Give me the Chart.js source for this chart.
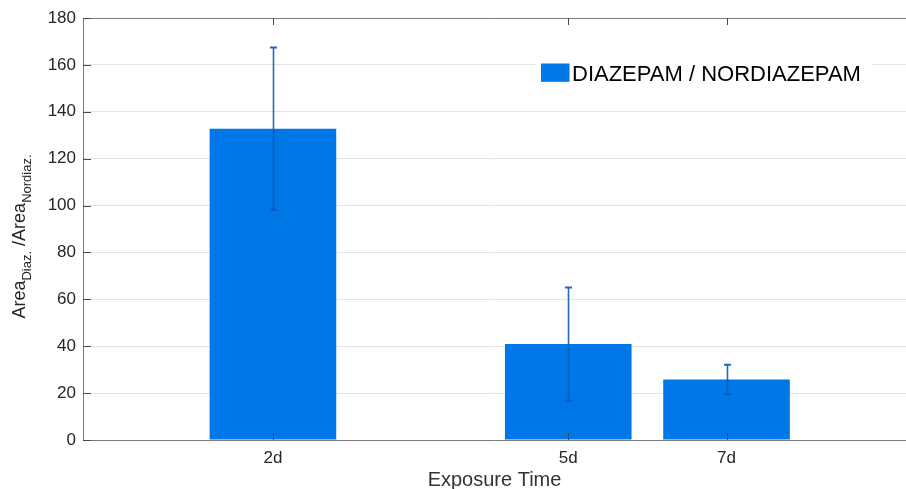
<!DOCTYPE html>
<html><head><meta charset="utf-8">
<script src="https://cdn.jsdelivr.net/npm/chart.js@4/dist/chart.umd.min.js"></script>
<style>html,body{margin:0;padding:0;background:#fff;}canvas{display:block;}</style>
</head><body>
<canvas id="c" width="906" height="489"></canvas>
<script>
// ---- data ----
const seriesLabel = 'DIAZEPAM / NORDIAZEPAM';
const categories = ['2d', '5d', '7d'];
const xPositions = [1, 2.866, 3.866];
const ratioValues = [132.8, 40.9, 25.8];
const ratioErrors = [34.6, 24.2, 6.3];
const yTickValues = [0, 20, 40, 60, 80, 100, 120, 140, 160, 180];
const xTitle = 'Exposure Time';
const yTitleParts = [['Area', false], ['Diaz.', true], [' /Area', false], ['Nordiaz.', true]];

// ---- style ----
const FONT = "'Liberation Sans', Arial, Helvetica, sans-serif";
const BAR = '#0077e6';
const AXIS = '#7a7a7a';
const TEXT = '#262626';

const decor = {
  id: 'decor',
  afterDatasetsDraw(chart) {
    const {ctx, chartArea: a, scales: {x, y}} = chart;
    ctx.save();
    // error bars
    ctx.strokeStyle = 'rgba(10,90,180,0.9)';
    ratioValues.forEach((v, i) => {
      const px = Math.round(x.getPixelForValue(xPositions[i])) + 0.5;
      const t = y.getPixelForValue(v + ratioErrors[i]);
      const b = y.getPixelForValue(v - ratioErrors[i]);
      ctx.lineWidth = 1.6;
      ctx.beginPath(); ctx.moveTo(px, t); ctx.lineTo(px, b); ctx.stroke();
      ctx.lineWidth = 2;
      ctx.beginPath();
      ctx.moveTo(px - 3.5, t); ctx.lineTo(px + 3.5, t);
      ctx.moveTo(px - 3.5, b); ctx.lineTo(px + 3.5, b);
      ctx.stroke();
    });
    // axes box lines
    ctx.strokeStyle = AXIS;
    ctx.lineWidth = 1;
    ctx.beginPath();
    ctx.moveTo(a.left, a.top + 0.5); ctx.lineTo(a.right, a.top + 0.5);
    ctx.moveTo(a.left, a.bottom + 0.5); ctx.lineTo(a.right, a.bottom + 0.5);
    ctx.moveTo(a.left + 0.5, a.top); ctx.lineTo(a.left + 0.5, a.bottom + 1);
    ctx.stroke();
    // inward ticks
    ctx.strokeStyle = '#4a4a4a';
    ctx.beginPath();
    yTickValues.forEach(v => {
      const py = Math.round(y.getPixelForValue(v)) + 0.5;
      ctx.moveTo(a.left, py); ctx.lineTo(a.left + 8, py);
    });
    xPositions.forEach(v => {
      const px = Math.round(x.getPixelForValue(v)) + 0.5;
      ctx.moveTo(px, a.bottom); ctx.lineTo(px, a.bottom - 7);
      ctx.moveTo(px, a.top); ctx.lineTo(px, a.top + 7);
    });
    ctx.stroke();
    // legend (inside axes)
    ctx.fillStyle = '#ffffff';
    ctx.fillRect(537, 50, 335, 44);
    ctx.fillStyle = BAR;
    ctx.fillRect(541, 63.5, 28.5, 18.3);
    ctx.fillStyle = '#000';
    ctx.font = '22px ' + FONT;
    ctx.textAlign = 'left';
    ctx.textBaseline = 'alphabetic';
    ctx.fillText(chart.data.datasets[0].label, 572, 80.7);
    ctx.restore();
  },
  afterDraw(chart) {
    const {ctx} = chart;
    ctx.save();
    ctx.fillStyle = TEXT;
    ctx.textBaseline = 'alphabetic';
    ctx.textAlign = 'left';
    const mainF = '18px ' + FONT, subF = '13px ' + FONT;
    let total = 0;
    const widths = yTitleParts.map(([t, sub]) => { ctx.font = sub ? subF : mainF; const w = ctx.measureText(t).width; total += w; return w; });
    ctx.translate(25, 236.5 + total / 2);
    ctx.rotate(-Math.PI / 2);
    let off = 0;
    yTitleParts.forEach(([t, sub], i) => {
      ctx.font = sub ? subF : mainF;
      ctx.fillText(t, off, sub ? 6 : 0);
      off += widths[i];
    });
    ctx.restore();
  }
};

new Chart(document.getElementById('c'), {
  type: 'bar',
  data: {
    datasets: [{
      label: seriesLabel,
      data: xPositions.map((xv, i) => ({x: xv, y: ratioValues[i]})),
      backgroundColor: BAR,
      borderWidth: 0,
      categoryPercentage: 1,
      barPercentage: 0.8
    }]
  },
  options: {
    responsive: false,
    animation: false,
    devicePixelRatio: 1,
    layout: {padding: {top: 18, left: 0, right: 0, bottom: 0}},
    plugins: {legend: {display: false}, tooltip: {enabled: false}},
    scales: {
      x: {
        type: 'linear',
        min: -0.2, max: 5.0,
        offset: false,
        afterFit(s) { s.height = 49; },
        afterBuildTicks(s) { s.ticks = xPositions.map(v => ({value: v})); },
        grid: {display: false, drawTicks: false},
        border: {display: false},
        ticks: {
          autoSkip: false, maxRotation: 0, padding: 8,
          color: TEXT, font: {family: FONT, size: 17},
          callback: (v, i) => categories[i]
        },
        title: {display: true, text: xTitle, color: '#333', font: {family: FONT, size: 20, lineHeight: 0.9}, padding: 0}
      },
      y: {
        min: 0, max: 180,
        afterFit(s) { s.width = 83; },
        afterBuildTicks(s) { s.ticks = yTickValues.map(v => ({value: v})); },
        grid: {color: '#e4e4e4', drawTicks: false, lineWidth: 1},
        border: {display: false},
        ticks: {padding: 7, color: TEXT, font: {family: FONT, size: 17}}
      }
    }
  },
  plugins: [decor]
});
</script>
</body></html>
